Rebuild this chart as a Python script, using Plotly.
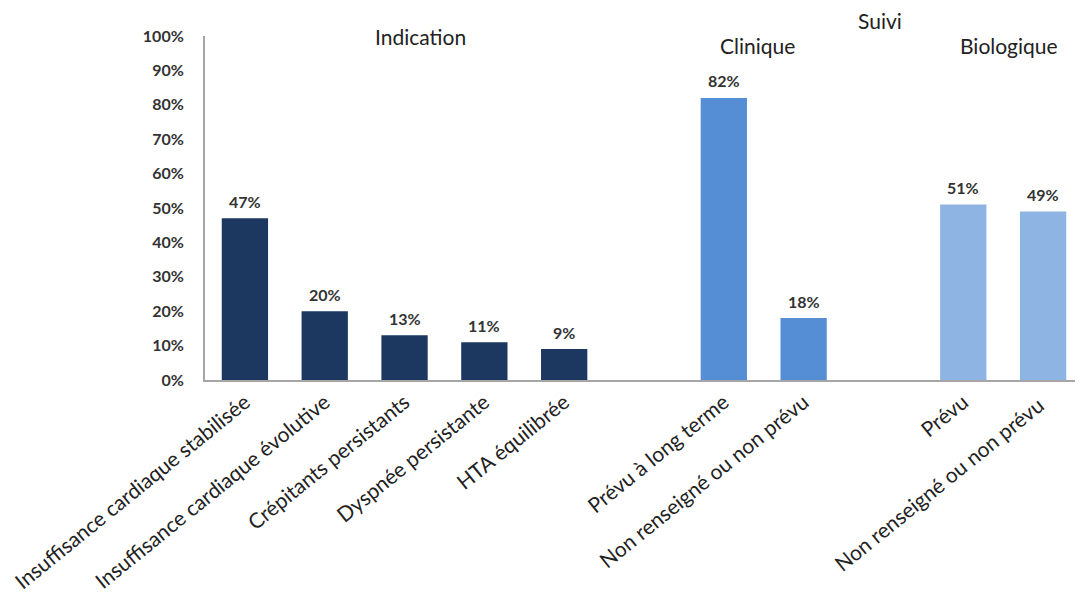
import plotly.graph_objects as go

# categories (blank entries are spacer slots between groups)
categories = [
    "Insuffisance cardiaque stabilisée",
    "Insuffisance cardiaque évolutive",
    "Crépitants persistants",
    "Dyspnée persistante",
    "HTA équilibrée",
    " ",
    "Prévu à long terme",
    "Non renseigné ou non prévu",
    "  ",
    "Prévu",
    "Non renseigné ou non prévu ",
]
values = [47, 20, 13, 11, 9, None, 82, 18, None, 51, 49]
group = ["ind"] * 5 + [None] + ["cli"] * 2 + [None] + ["bio"] * 2

colors = {"ind": "#1c3760", "cli": "#558ed5", "bio": "#8eb4e3", None: "rgba(0,0,0,0)"}
bar_colors = [colors[g] for g in group]

font_family = "Lato, Open Sans, sans-serif"

# page body has an 8px margin, so the figure is offset by 8px
fig = go.Figure()
fig.add_trace(go.Bar(
    x=categories, y=values,
    marker=dict(color=bar_colors, line=dict(width=0)),
    width=0.58,
    hoverinfo="skip",
))

# value labels above bars
for c, v in zip(categories, values):
    if v is None:
        continue
    fig.add_annotation(x=c, y=v, text=f"{v}%", showarrow=False, yshift=17,
                       font=dict(size=16, color="#333333", family=font_family, weight="bold"))

# group headers (pixel positions in the reference window)
for txt, x, y in [("Indication", 420, 36), ("Suivi", 880, 21),
                  ("Clinique", 757, 45), ("Biologique", 1009, 45)]:
    fig.add_annotation(xref="paper", yref="paper",
                       x=(x - 205) / (1083 - 205), y=(380 - y) / (380 - 36),
                       text=txt, showarrow=False, xanchor="center", yanchor="middle",
                       font=dict(size=21, color="#222222", family=font_family))

fig.update_layout(
    width=1075, height=589,
    margin=dict(l=197, r=0, t=28, b=217),
    plot_bgcolor="white", paper_bgcolor="white",
    showlegend=False,
    font=dict(family=font_family, color="#222222"),
)
fig.update_xaxes(
    type="category", tickangle=-39, showgrid=False,
    showline=True, linecolor="#a6a6a6", linewidth=2,
    ticks="", tickfont=dict(size=21, color="#222222"),
)
fig.update_yaxes(
    range=[0, 100], dtick=10, ticksuffix="%", showgrid=False, zeroline=False,
    showline=True, linecolor="#a6a6a6", linewidth=2,
    ticks="", ticklabelstandoff=16,
    tickfont=dict(size=16, color="#333333", weight="bold"),
)

fig.write_html("out.html")
